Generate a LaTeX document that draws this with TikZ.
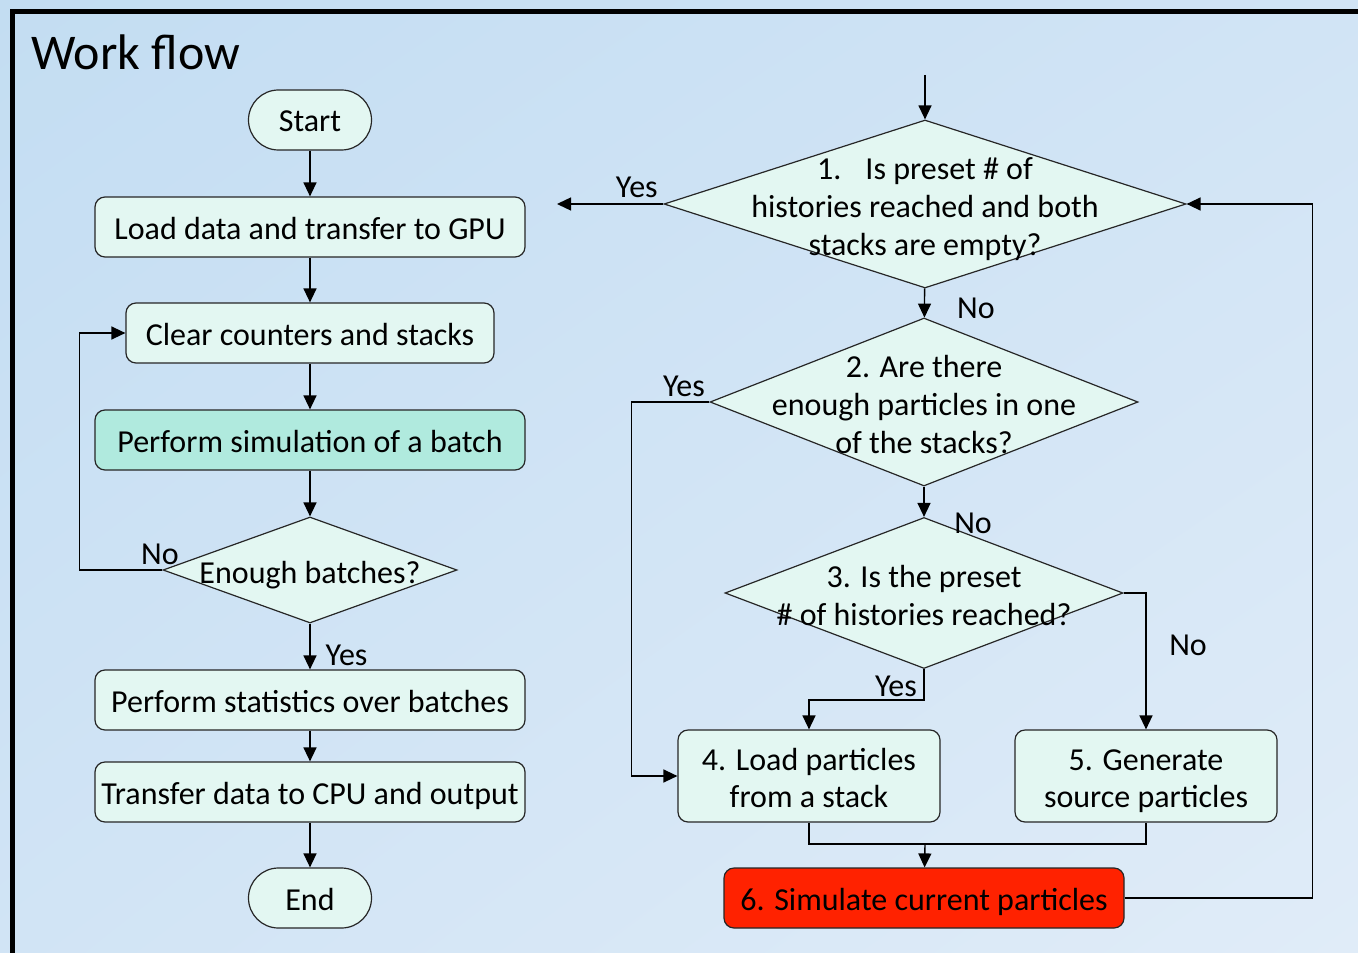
\documentclass[tikz,border=0pt]{standalone}
\usepackage{fontspec}
\setmainfont{Carlito}
\usetikzlibrary{shapes.geometric, arrows.meta, positioning, calc, shadings}
\definecolor{bgtop}{RGB}{195,221,242}
\definecolor{bgmid}{RGB}{209,228,245}
\definecolor{bgbot}{RGB}{224,236,248}
\definecolor{boxfill}{RGB}{227,247,242}
\definecolor{simfill}{RGB}{176,234,222}
\definecolor{simred}{RGB}{255,34,0}
\newcommand{\topstrut}{\rule{0pt}{16.5pt}}
\newcommand{\botstrut}{\rule[-4pt]{0pt}{4pt}}

\tikzset{
  flow/.style={draw=black!85, line width=0.6pt, fill=boxfill, rounded corners=5pt,
    inner sep=0pt, font=\fontsize{16}{18.5}\selectfont, align=center},
  term/.style={flow, rounded corners=15pt, minimum width=61.5pt, minimum height=30pt,
    text height=14pt, text depth=2pt},
  proc/.style={flow, minimum height=30pt, text height=14pt, text depth=2pt},
  test/.style={diamond, draw=black!85, line width=0.6pt, fill=boxfill, inner sep=0pt},
  arr/.style={-{Triangle[length=7pt,width=6.5pt]}, line width=0.7pt},
  lbl/.style={font=\fontsize{16}{19}\selectfont, inner sep=0pt, align=center},
}

\begin{document}
\begin{tikzpicture}[x=0.5pt, y=-0.5pt]
% background and frame
\useasboundingbox (0,0) rectangle (1358,952);
\shade[upper left=bgtop, upper right=bgmid, lower left=bgmid, lower right=bgbot]
  (0,0) rectangle (1358,952);
\draw[line width=2.5pt] (1370,12) -- (12,12) -- (12,960);
\node[font=\fontsize{25}{27}\selectfont, anchor=base west, inner sep=0pt] (title) at (31,70) {Work flow};

% left column
\node[term] (start) at (310,120) {Start};
\node[proc, minimum width=215pt] (load) at (310,227) {Load data and transfer to GPU};
\node[proc, minimum width=184pt] (clear) at (310,333) {Clear counters and stacks};
\node[proc, minimum width=215pt, fill=simfill] (sim) at (310,440) {Perform simulation of a batch};
\node[test, minimum width=147pt, minimum height=53pt,
  label={[lbl, yshift=-2.5pt]center:Enough batches?}] (enough) at (310,570) {};
\node[proc, minimum width=215pt] (stats) at (310,700) {Perform statistics over batches};
\node[proc, minimum width=215pt] (xfer) at (310,792) {Transfer data to CPU and output};
\node[term] (end) at (310,898) {End};

\draw[arr] (start) -- (load);
\draw[arr] (load) -- (clear);
\draw[arr] (clear) -- (sim);
\draw[arr] (sim) -- (enough);
\draw[arr] (enough) -- node[lbl, right=7.5pt, pos=0.7] {Yes} (stats);
\draw[arr] (stats) -- (xfer);
\draw[arr] (xfer) -- (end);
\draw[arr] (enough.west) -- ++(-83,0) |- (clear.west);
\node[lbl] (nob) at (160,554) {No};

% right column
\coordinate (entry) at (925,75);
\coordinate (exit) at (557,204);
\node[test, minimum width=261pt, minimum height=84pt,
  label={[lbl, yshift=-2.5pt]center:1.\hspace{12pt}Is preset \# of\\histories reached and both\\stacks are empty?}] (q1) at (925,204) {};
\node[test, minimum width=214pt, minimum height=84pt,
  label={[lbl, yshift=-1.5pt]center:2. Are there\\enough particles in one\\of the stacks?}] (q2) at (924,402) {};
\node[test, minimum width=199pt, minimum height=75.5pt,
  label={[lbl, yshift=-1.3pt]center:3. Is the preset\\\# of histories reached?}] (q3) at (924,593) {};
\node[flow, minimum width=131pt, minimum height=46pt] (load4) at (809,776)
  {\topstrut 4. Load particles\\from a stack\botstrut};
\node[flow, minimum width=131pt, minimum height=46pt] (gen5) at (1146,776)
  {\topstrut 5. Generate\\source particles\botstrut};
\node[proc, minimum width=200pt, fill=simred] (sim6) at (924,898) {6. Simulate current particles};
\coordinate (merge) at (925,844);

\draw[arr] (entry) -- (q1);
\draw[arr] (q1.west) -- node[lbl, above=3pt, pos=0.25] {Yes} (exit);
\draw[arr] (q1) -- node[lbl, right=16pt, pos=0.7] {No} (q2);
\draw[arr] (q2.west) -- ++(-78,0) |- (load4.west);
\node[lbl] (yes2) at (684,386) {Yes};
\draw[arr] (q2) -- (q3);
\node[lbl] (no2) at (973,523) {No};
\draw[arr] (q3.east) -| (gen5.north);
\node[lbl] (no3) at (1188,645) {No};
\draw[arr] (q3.south) -- ++(0,31) -| (load4.north);
\node[lbl] (yes3) at (896,686) {Yes};
\draw[line width=0.7pt] (load4.south) |- (merge) -| (gen5.south);
\draw[arr] (merge) -- (sim6);
\draw[arr] (sim6.east) -- ++(188,0) |- (q1.east);
\end{tikzpicture}
\end{document}
